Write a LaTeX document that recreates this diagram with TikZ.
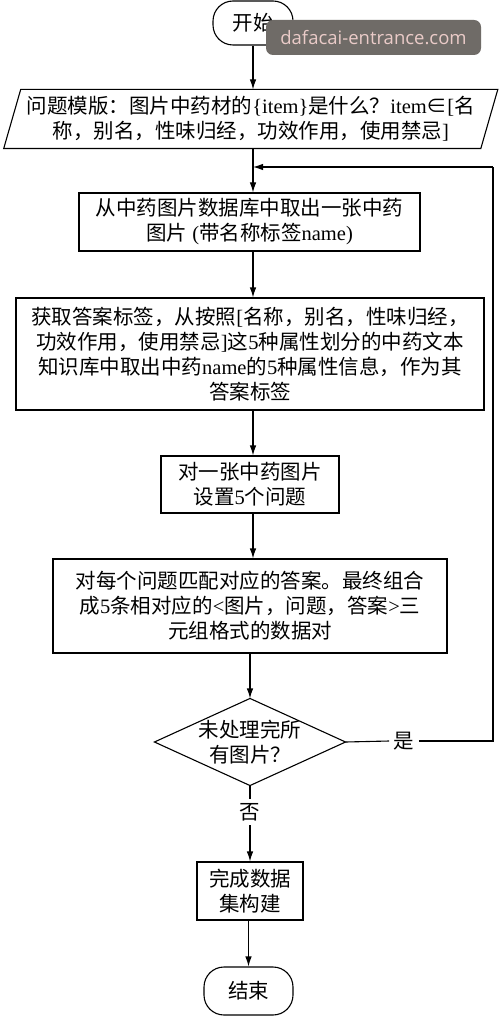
\documentclass[tikz,border=0pt]{standalone}
\usepackage{fontspec}
\setmainfont{Noto Sans CJK SC}
\newfontfamily\lat{Liberation Serif}
\newfontfamily\wm{Open Sans}
\usetikzlibrary{arrows.meta,calc}
\definecolor{wmgray}{HTML}{6F6B67}
\definecolor{wmpink}{HTML}{EACBC8}
\begin{document}
\begin{tikzpicture}[x=1pt,y=-1pt,line width=1.1pt,
  >={Latex[length=10pt,width=6.5pt]},
  font=\fontsize{20.5}{25}\selectfont,
  box/.style={draw,rectangle,align=center,inner sep=0pt},
  term/.style={draw,rounded corners=20pt,align=center,inner sep=0pt},
  plain/.style={rectangle,align=center,inner sep=0pt},
  lbl/.style={inner sep=4pt}]
\useasboundingbox (0,0) rectangle (500,1016);
\fill[white] (0,0) rectangle (500,1016);
\coordinate (join) at (253,167);
\coordinate (rt) at (493,167);

\node[term,minimum width=80,minimum height=44] (start) at (253,23) {开始};

\node[plain,minimum width=476,minimum height=58] (para) at (250.75,119)
  {问题模版：图片中药材的{\lat\{item\}}是什么？{\lat item}∈{\lat[}名\\称，别名，性味归经，功效作用，使用禁忌{\lat]}};
\draw ($(para.north west)+(8.5,0)$) -- ($(para.north east)+(8.5,0)$)
  -- ($(para.south east)+(-8.5,0)$) -- ($(para.south west)+(-8.5,0)$) -- cycle;

\node[box,minimum width=341,minimum height=58] (box1) at (249.5,222)
  {从中药图片数据库中取出一张中药\\图片{\lat\ (}带名称标签{\lat name)}};

\node[box,minimum width=468,minimum height=112] (box2) at (250,354)
  {获取答案标签，从按照{\lat[}名称，别名，性味归经，\\功效作用，使用禁忌{\lat]}这{\lat 5}种属性划分的中药文本\\知识库中取出中药{\lat name}的{\lat 5}种属性信息，作为其\\答案标签};

\node[box,minimum width=178,minimum height=57] (box3) at (250,484.5)
  {对一张中药图片\\设置{\lat 5}个问题};

\node[box,minimum width=394,minimum height=94] (box4) at (250,606)
  {对每个问题匹配对应的答案。最终组合\\成{\lat 5}条相对应的{\lat<}图片，问题，答案{\lat>}三\\元组格式的数据对};

\node[plain,minimum width=190,minimum height=86] (dec) at (250,742)
  {未处理完所\\有图片？};
\draw (dec.north) -- (dec.east) -- (dec.south) -- (dec.west) -- cycle;

\node[lbl] (yes) at (404,741) {是};
\node[lbl] (no) at (250,812) {否};

\node[box,minimum width=106,minimum height=58] (box5) at (250,891)
  {完成数据\\集构建};

\node[term,minimum width=89,minimum height=48] (end) at (248.5,991) {结束};

\draw[->] (start.south) -- (start.south |- para.north);
\draw[->] (para.south -| join) -- (box1.north -| join);
\draw[->] (box1.south -| join) -- (box2.north -| join);
\draw[->] (box2.south -| join) -- (box3.north -| join);
\draw[->] (box3.south -| join) -- (box4.north -| join);
\draw[->] (box4.south) -- (dec.north);
\draw (dec.east) -- (yes.west);
\draw (yes.east) -| (rt);
\draw[->] (rt) -- (join);
\draw (dec.south) -- (no.north);
\draw[->] (no.south) -- (box5.north);
\draw[->] (box5.south -| end) -- (end.north);

\node[fill=wmgray,rounded corners=7pt,minimum width=215,minimum height=35,
  text=wmpink,font=\wm\fontsize{18.5}{20}\selectfont,inner sep=0pt] (wm) at (373.5,37.5)
  {dafacai-entrance.com};
\end{tikzpicture}
\end{document}
